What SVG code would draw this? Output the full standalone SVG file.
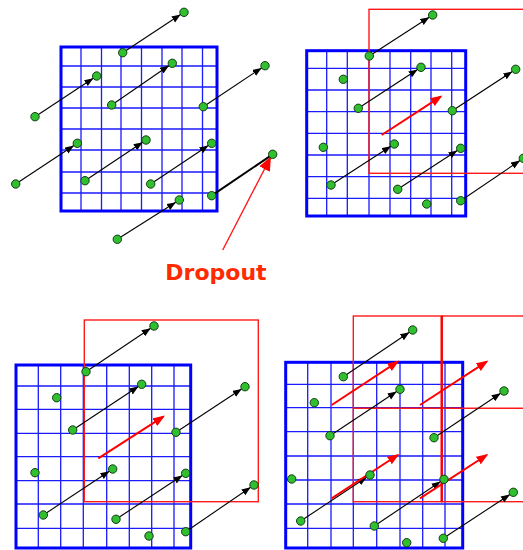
<svg xmlns="http://www.w3.org/2000/svg" width="523" height="550" viewBox="0 0 523 550">
<style>
.bd{fill:none;stroke:#0000ff;stroke-width:3}
.gl{stroke:#1a1aff;stroke-width:1.3;fill:none}
.rr{fill:none;stroke:#ff1a1a;stroke-width:1.4}
.ar{stroke:#000;stroke-width:1.1;marker-end:url(#bh)}
.ra{stroke:#ff0000;stroke-width:2;marker-end:url(#rh)}
.dot{fill:#2fbf2f;stroke:#143d14;stroke-width:1}
.lbl{font-family:"DejaVu Sans",sans-serif;font-weight:bold;font-size:22px;fill:#ff2a00}
</style>
<defs>
<marker id="bh" markerUnits="userSpaceOnUse" markerWidth="16" markerHeight="10" viewBox="0 0 16 10" refX="13" refY="3.5" orient="auto"><path d="M0,0 L9,3.5 L0,7 z" fill="#000"/></marker>
<marker id="rh" markerUnits="userSpaceOnUse" markerWidth="14" markerHeight="10" viewBox="0 0 14 10" refX="10" refY="4.5" orient="auto"><path d="M0,0 L12,4.5 L0,9 z" fill="#ff0000"/></marker>
<marker id="dh" markerUnits="userSpaceOnUse" markerWidth="16" markerHeight="14" viewBox="0 0 16 14" refX="13" refY="6" orient="auto"><path d="M0,0 L14,6 L0,12 z" fill="#ff0000"/></marker>
</defs>

<g id="panel1">
<g id="grid1">
<path class="gl" d="M81,47V211M101.5,47V211M121,47V211M141.5,47V211M162,47V211M182,47V211M202.5,47V211M61,66H217M61,87H217M61,108H217M61,129H217M61,150H217M61,172H217M61,193H217"/>
<rect class="bd" x="61" y="47" width="156" height="164"/>
</g>
<g id="connectors1">
<line class="ar" x1="122.7" y1="52.7" x2="184" y2="12.3"/>
<line class="ar" x1="35" y1="116.7" x2="96.7" y2="76"/>
<line class="ar" x1="111.7" y1="105" x2="172.3" y2="63.3"/>
<line class="ar" x1="203.3" y1="106.7" x2="265" y2="65.7"/>
<line class="ar" x1="15.7" y1="184" x2="77.3" y2="143.3"/>
<line class="ar" x1="85" y1="180.7" x2="146" y2="140"/>
<line class="ar" x1="150.7" y1="184" x2="211.7" y2="143.3"/>
<line x1="211.7" y1="195.7" x2="272.7" y2="154.3" stroke="#000" stroke-width="2"/>
<line class="ar" x1="117.3" y1="239.3" x2="179.3" y2="200"/>
<line x1="222.7" y1="250" x2="270.5" y2="157.5" stroke="#ff1a1a" stroke-width="1.4" marker-end="url(#dh)"/>
</g>
<g id="dots1">
<circle class="dot" cx="122.7" cy="52.7" r="4.2"/><circle class="dot" cx="184" cy="12.3" r="4.2"/>
<circle class="dot" cx="35" cy="116.7" r="4.2"/><circle class="dot" cx="96.7" cy="76" r="4.2"/>
<circle class="dot" cx="111.7" cy="105" r="4.2"/><circle class="dot" cx="172.3" cy="63.3" r="4.2"/>
<circle class="dot" cx="203.3" cy="106.7" r="4.2"/><circle class="dot" cx="265" cy="65.7" r="4.2"/>
<circle class="dot" cx="15.7" cy="184" r="4.2"/><circle class="dot" cx="77.3" cy="143.3" r="4.2"/>
<circle class="dot" cx="85" cy="180.7" r="4.2"/><circle class="dot" cx="146" cy="140" r="4.2"/>
<circle class="dot" cx="150.7" cy="184" r="4.2"/><circle class="dot" cx="211.7" cy="143.3" r="4.2"/>
<circle class="dot" cx="211.7" cy="195.7" r="4.2"/><circle class="dot" cx="272.7" cy="154.3" r="4.2"/>
<circle class="dot" cx="117.3" cy="239.3" r="4.2"/><circle class="dot" cx="179.3" cy="200" r="4.2"/>
</g>
<text id="dropout" class="lbl" x="216" y="280" text-anchor="middle">Dropout</text>
</g>

<g id="panel2">
<g id="grid2">
<path class="gl" d="M326.7,50.7V216M347.3,50.7V216M369,50.7V216M390,50.7V216M410.7,50.7V216M431,50.7V216M451.7,50.7V216M306.7,68.3H465.7M306.7,90H465.7M306.7,111.7H465.7M306.7,133.3H465.7M306.7,155H465.7M306.7,176.7H465.7M306.7,198.3H465.7"/>
<rect class="bd" x="306.7" y="50.7" width="159" height="165.3"/>
</g>
<rect class="rr" x="369" y="9.3" width="170" height="164"/>
<g id="connectors2">
<line class="ar" x1="369.3" y1="56" x2="432.7" y2="15"/>
<line class="ar" x1="358.3" y1="108.3" x2="421" y2="67.3"/>
<line class="ar" x1="452.3" y1="110.7" x2="515.7" y2="69.3"/>
<line class="ar" x1="331" y1="185" x2="394.3" y2="144"/>
<line class="ar" x1="397.7" y1="189.3" x2="460.7" y2="148.3"/>
<line class="ar" x1="460.7" y1="200.7" x2="523.3" y2="158.3"/>
<line class="ra" x1="381.7" y1="135" x2="440.7" y2="96.7"/>
</g>
<g id="dots2">
<circle class="dot" cx="369.3" cy="56" r="4.2"/><circle class="dot" cx="432.7" cy="15" r="4.2"/>
<circle class="dot" cx="358.3" cy="108.3" r="4.2"/><circle class="dot" cx="421" cy="67.3" r="4.2"/>
<circle class="dot" cx="452.3" cy="110.7" r="4.2"/><circle class="dot" cx="515.7" cy="69.3" r="4.2"/>
<circle class="dot" cx="331" cy="185" r="4.2"/><circle class="dot" cx="394.3" cy="144" r="4.2"/>
<circle class="dot" cx="397.7" cy="189.3" r="4.2"/><circle class="dot" cx="460.7" cy="148.3" r="4.2"/>
<circle class="dot" cx="460.7" cy="200.7" r="4.2"/><circle class="dot" cx="523.3" cy="158.3" r="4.2"/>
<circle class="dot" cx="343.3" cy="79.3" r="4.2"/><circle class="dot" cx="323.3" cy="147.3" r="4.2"/><circle class="dot" cx="426.7" cy="204" r="4.2"/>
</g>
</g>

<g id="panel3">
<g id="grid3">
<path class="gl" d="M38.3,365V548M60.7,365V548M83.3,365V548M106.7,365V548M129.3,365V548M151.7,365V548M174,365V548M16,386H190.7M16,409.3H190.7M16,433.3H190.7M16,456.7H190.7M16,480.7H190.7M16,504H190.7M16,528.3H190.7"/>
<rect class="bd" x="16" y="365" width="174.7" height="183"/>
</g>
<rect class="rr" x="84.3" y="320" width="174" height="181.7" stroke-width="1.8"/>
<g id="connectors3">
<line class="ar" x1="86" y1="371.7" x2="154" y2="326"/>
<line class="ar" x1="72.7" y1="430" x2="141.7" y2="384.3"/>
<line class="ar" x1="176" y1="432.3" x2="245" y2="386.7"/>
<line class="ar" x1="43.3" y1="515" x2="112.7" y2="469"/>
<line class="ar" x1="116" y1="519.3" x2="185.7" y2="473.3"/>
<line class="ar" x1="185.7" y1="531.7" x2="254" y2="485"/>
<line class="ra" x1="98.3" y1="458.3" x2="163.3" y2="416.7"/>
</g>
<g id="dots3">
<circle class="dot" cx="86" cy="371.7" r="4.2"/><circle class="dot" cx="154" cy="326" r="4.2"/>
<circle class="dot" cx="72.7" cy="430" r="4.2"/><circle class="dot" cx="141.7" cy="384.3" r="4.2"/>
<circle class="dot" cx="176" cy="432.3" r="4.2"/><circle class="dot" cx="245" cy="386.7" r="4.2"/>
<circle class="dot" cx="43.3" cy="515" r="4.2"/><circle class="dot" cx="112.7" cy="469" r="4.2"/>
<circle class="dot" cx="116" cy="519.3" r="4.2"/><circle class="dot" cx="185.7" cy="473.3" r="4.2"/>
<circle class="dot" cx="185.7" cy="531.7" r="4.2"/><circle class="dot" cx="254" cy="485" r="4.2"/>
<circle class="dot" cx="56.7" cy="397.7" r="4.2"/><circle class="dot" cx="35" cy="472.7" r="4.2"/><circle class="dot" cx="149" cy="536" r="4.2"/>
</g>
</g>

<g id="panel4">
<g id="grid4">
<path class="gl" d="M307.7,362.3V548M331,362.3V548M353.3,362.3V548M376.7,362.3V548M400,362.3V548M422.7,362.3V548M445,362.3V548M285.7,384.3H462.7M285.7,407.7H462.7M285.7,431.7H462.7M285.7,456H462.7M285.7,480H462.7M285.7,504H462.7M285.7,528.3H462.7"/>
<rect class="bd" x="285.7" y="362.3" width="177" height="185.7"/>
</g>
<g id="windows4">
<rect class="rr" x="353.3" y="316" width="88.4" height="185.7"/>
<rect class="rr" x="441.7" y="316" width="100" height="185.7"/>
<line class="rr" x1="353.3" y1="408.3" x2="523" y2="408.3"/>
<line x1="441.7" y1="316" x2="441.7" y2="501.7" stroke="#ff0000" stroke-width="2.4"/>
</g>
<g id="connectors4">
<line class="ar" x1="343.3" y1="376.7" x2="412.7" y2="330"/>
<line class="ar" x1="330" y1="435.7" x2="400" y2="389.3" stroke-width="1.6"/>
<line class="ar" x1="434" y1="437.7" x2="504" y2="391"/>
<line class="ar" x1="300.7" y1="521" x2="370" y2="475" stroke-width="1.6"/>
<line class="ar" x1="374.3" y1="526" x2="444" y2="479.3"/>
<line class="ar" x1="443.3" y1="538.3" x2="513.3" y2="492.3" stroke-width="1.8"/>
<line class="ra" x1="331.7" y1="405" x2="397.7" y2="361.7"/>
<line class="ra" x1="420" y1="405" x2="486.7" y2="361.7"/>
<line class="ra" x1="331.7" y1="498.3" x2="397.7" y2="455" stroke-width="1.4"/>
<line class="ra" x1="420" y1="498.3" x2="486.7" y2="455" stroke-width="1.4"/>
</g>
<g id="dots4">
<circle class="dot" cx="343.3" cy="376.7" r="4.2"/><circle class="dot" cx="412.7" cy="330" r="4.2"/>
<circle class="dot" cx="330" cy="435.7" r="4.2"/><circle class="dot" cx="400" cy="389.3" r="4.2"/>
<circle class="dot" cx="434" cy="437.7" r="4.2"/><circle class="dot" cx="504" cy="391" r="4.2"/>
<circle class="dot" cx="300.7" cy="521" r="4.2"/><circle class="dot" cx="370" cy="475" r="4.2"/>
<circle class="dot" cx="374.3" cy="526" r="4.2"/><circle class="dot" cx="444" cy="479.3" r="4.2"/>
<circle class="dot" cx="443.3" cy="538.3" r="4.2"/><circle class="dot" cx="513.3" cy="492.3" r="4.2"/>
<circle class="dot" cx="314.3" cy="402.7" r="4.2"/><circle class="dot" cx="291.7" cy="479" r="4.2"/><circle class="dot" cx="406.7" cy="542.7" r="4.2"/>
</g>
</g>
</svg>
